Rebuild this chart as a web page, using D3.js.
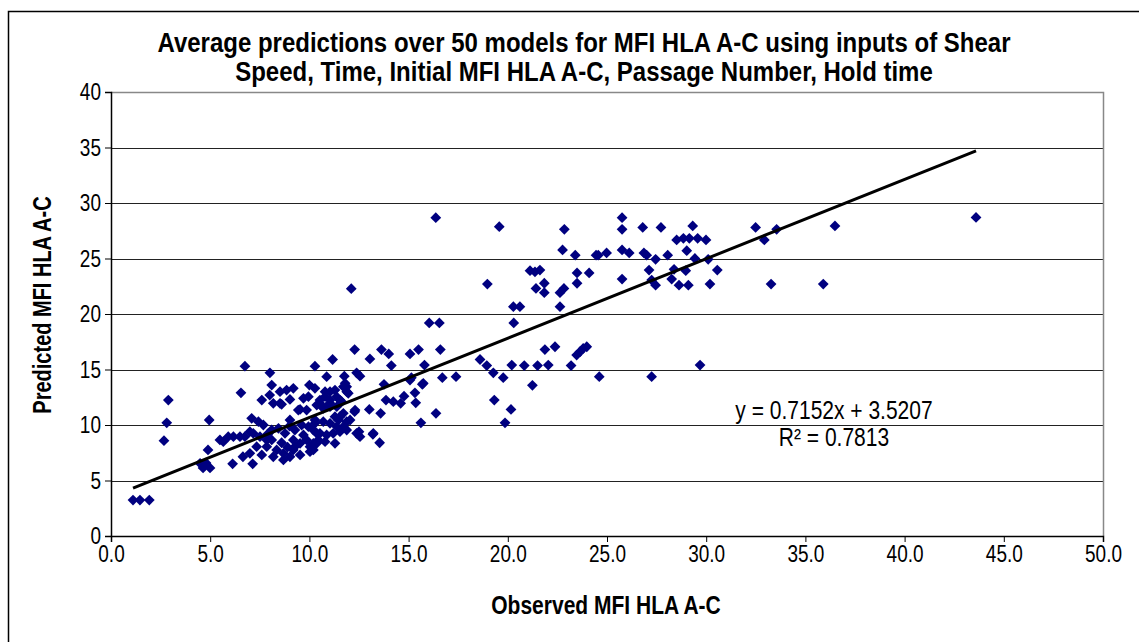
<!DOCTYPE html>
<html>
<head>
<meta charset="utf-8">
<script src="https://cdn.jsdelivr.net/npm/d3@7"></script>
<style>
  body { margin: 0; background: #fff; }
  svg { display: block; font-family: "Liberation Sans", Arial, sans-serif; }
</style>
</head>
<body>
<svg id="chart" width="1139" height="642"></svg>
<script>
// observed vs predicted MFI HLA A-C
const observed = [
  1.11, 1.46, 1.93, 2.67, 2.81, 2.89, 4.95, 4.79, 4.99, 4.64, 4.89, 6.75, 6.55, 8.01, 6.13, 6.65, 7.14,
  10.28, 11.17, 10.87, 12.11, 16.04, 16.55, 12.28, 13.63, 14.0, 13.05, 15.07, 15.5, 16.6, 14.13, 15.8,
  11.76, 12.38, 12.55, 15.14, 16.7, 13.76, 15.69, 15.32, 14.77, 14.6, 14.23, 13.86, 15.36, 16.38, 15.62,
  13.59, 13.02, 12.28, 13.2, 13.54, 12.5, 8.1, 7.6, 8.18, 8.6, 8.85, 9.19, 9.02, 9.53, 9.7, 9.95, 10.0,
  10.28, 10.53, 10.79, 11.04, 11.29, 10.87, 11.04, 11.37, 11.63, 11.8, 11.88, 11.96, 11.38, 11.54, 11.29,
  11.88, 7.09, 7.43, 7.68, 5.66, 5.91, 6.17, 6.5, 6.75, 7.0, 17.39, 18.6, 18.94, 19.27, 19.77, 19.32,
  20.16, 19.86, 20.2, 20.83, 21.5, 22.04, 21.24, 21.87, 22.38, 23.19, 23.47, 23.64, 23.8, 23.98, 24.61,
  16.37, 19.57, 22.85, 25.76, 25.76, 22.76, 23.4, 24.45, 24.56, 24.98, 25.76, 26.12, 18.97, 21.12, 21.37,
  21.62, 21.42, 21.84, 21.84, 22.63, 22.83, 23.49, 24.1, 23.49, 25.76, 22.63, 20.28, 20.61, 20.3, 26.8,
  27.72, 29.32, 32.49, 33.55, 36.49, 32.93, 28.51, 28.85, 29.15, 29.57, 29.99, 29.02, 26.86, 27.0, 27.45,
  28.06, 29.43, 30.1, 30.56, 27.12, 28.38, 28.97, 27.25, 28.26, 27.45, 28.63, 29.1, 30.19, 33.27, 35.9,
  27.25, 29.69, 43.6, 8.52, 8.0, 8.52, 9.44, 9.86, 9.02, 5.49, 7.17, 4.49, 7.6, 7.85, 8.1, 8.35, 8.69,
  9.02, 8.1, 8.44, 8.77, 9.27, 9.61, 9.95, 10.28, 9.19, 9.53, 9.86, 10.2, 9.19, 9.53, 8.69, 8.18, 10.37,
  10.45, 10.2, 7.51, 7.85, 7.34, 7.0, 11.71, 11.88, 11.54, 10.79, 11.04, 10.53, 15.07, 15.74, 12.3, 10.37,
  10.7, 11.04, 11.71, 12.05, 11.46, 10.28, 10.7, 11.04, 11.38, 11.71, 10.2, 10.53, 10.87, 11.2, 11.54,
  11.88, 12.38, 12.55, 13.22, 10.03, 10.37, 10.79, 11.29, 10.03, 8.9, 9.3, 8.6, 7.9, 9.0, 9.7
];
const predicted = [
  3.24, 3.24, 3.24, 8.59, 10.2, 12.25, 10.45, 6.58, 6.13, 6.13, 7.75, 15.3, 12.9, 14.7, 6.5, 7.14, 6.5,
  15.3, 15.9, 14.35, 22.28, 19.2, 19.2, 16.8, 16.8, 16.4, 15.95, 16.4, 16.8, 16.8, 15.35, 15.4,
  14.4, 14.7, 14.4, 14.26, 14.26, 13.67, 13.67, 12.9, 12.6, 11.95, 12.1, 12.25, 12.0, 11.05, 10.2,
  11.05, 11.4, 11.2, 9.16, 8.4, 9.4, 13.6, 12.25, 11.95, 11.86, 13.15, 13.3, 12.3, 11.4, 12.4, 12.55, 13.6,
  13.3, 11.95, 12.55, 13.0, 13.15, 11.65, 11.95, 12.55, 12.1, 13.76, 13.45, 12.86, 11.65, 10.75, 10.75,
  10.3, 10.6, 10.3, 10.0, 8.5, 8.95, 8.95, 8.95, 8.95, 9.4, 14.35, 15.9, 15.35, 14.7, 14.26, 12.25,
  11.4, 10.2, 15.4, 15.35, 15.35, 15.4, 13.57, 16.8, 17.05, 15.35, 16.3, 16.6, 16.9, 17.05, 14.35,
  28.68, 27.87, 27.63, 28.68, 27.63, 25.77, 25.3, 25.3, 25.3, 25.5, 25.77, 25.5, 22.7, 23.9, 23.8,
  23.96, 22.3, 22.77, 21.92, 21.92, 22.3, 23.7, 23.7, 22.77, 23.15, 20.66, 20.66, 20.66, 19.2, 27.8,
  27.8, 27.93, 27.8, 27.63, 27.93, 26.67, 26.67, 26.82, 26.82, 26.82, 26.67, 25.7, 25.5, 25.3, 24.93,
  25.3, 25.0, 24.93, 23.96, 23.96, 24.03, 23.9, 23.06, 23.15, 22.6, 22.6, 22.6, 22.7, 22.7, 22.7,
  14.35, 15.4, 28.7, 13.0, 12.7, 11.95, 11.35, 11.35, 10.45, 8.65, 9.25, 6.55, 7.3, 8.05, 8.65, 7.75, 7.45,
  7.14, 9.55, 9.7, 9.25, 9.55, 10.0, 9.85, 10.15, 8.65, 8.35, 8.65, 8.35, 7.75, 7.3, 6.85, 7.14, 9.25,
  8.65, 7.75, 8.95, 8.65, 8.05, 7.45, 13.45, 13.0, 12.25, 13.0, 12.25, 12.25, 14.05, 13.76, 11.35, 11.8,
  11.5, 11.65, 11.05, 10.45, 10.45, 10.45, 10.3, 10.15, 9.85, 9.85, 9.55, 9.25, 9.1, 9.25, 9.4,
  9.55, 9.25, 8.95, 9.25, 8.05, 8.35, 8.5, 8.35, 7.6, 8.0, 8.1, 8.4, 9.2, 9.9, 9.1
];
const xTicks = [0, 5, 10, 15, 20, 25, 30, 35, 40, 45, 50];
const yTicks = [0, 5, 10, 15, 20, 25, 30, 35, 40];
const titleLines = [
  'Average predictions over 50 models for MFI HLA A-C using inputs of Shear',
  'Speed, Time, Initial MFI HLA A-C, Passage Number, Hold time'
];
const slope = 0.7152;
const intercept = 3.5207;
const rSquared = 0.7813;

const svg = d3.select('#chart');
const plotLeft = 111, plotRight = 1103, plotTop = 92, plotBottom = 536;
const stretch = 1.25; // the reference text is drawn tall and narrow

const xScale = d3.scaleLinear().domain([0, 50]).range([plotLeft, plotRight]);
const yScale = d3.scaleLinear().domain([0, 40]).range([plotBottom, plotTop]);

// outer chart frame (only top/left edges fall inside the picture)
svg.append('rect')
  .attr('x', 8.5).attr('y', 11.5)
  .attr('width', 1200).attr('height', 700)
  .attr('fill', 'none').attr('stroke', '#000').attr('stroke-width', 1.5);

// horizontal gridlines
svg.append('g')
  .selectAll('line')
  .data(yTicks.filter((t) => t > 0 && t < 40))
  .enter()
  .append('line')
  .attr('x1', plotLeft).attr('x2', plotRight)
  .attr('y1', (d) => Math.round(yScale(d)) + 0.5)
  .attr('y2', (d) => Math.round(yScale(d)) + 0.5)
  .attr('stroke', '#222').attr('stroke-width', 1);

// plot area border (top + right grey)
svg.append('path')
  .attr('d', `M${plotLeft},${plotTop + 0.5}H${plotRight + 0.5}V${plotBottom}`)
  .attr('fill', 'none').attr('stroke', '#888').attr('stroke-width', 1.5);

const xAxis = d3.axisBottom(xScale)
  .tickValues(xTicks)
  .tickFormat(d3.format('.1f'))
  .tickSize(6)
  .tickPadding(1);
const yAxis = d3.axisLeft(yScale)
  .tickValues(yTicks)
  .tickFormat(d3.format('d'))
  .tickSize(6)
  .tickPadding(4);

const xAxisSel = svg.append('g')
  .attr('transform', 'translate(0,' + plotBottom + ')')
  .call(xAxis);
const yAxisSel = svg.append('g')
  .attr('transform', 'translate(' + plotLeft + ',0)')
  .call(yAxis);

[xAxisSel, yAxisSel].forEach((sel) => {
  sel.select('.domain').attr('stroke', '#000').attr('stroke-width', 1.5);
  sel.selectAll('.tick line').attr('stroke', '#000');
  sel.selectAll('.tick text')
    .style('font-size', '19px')
    .style('font-family', '"Liberation Sans", Arial, sans-serif')
    .attr('transform', `scale(1,${stretch})`)
    .attr('fill', '#000');
});

// points
const points = observed.map((x, i) => [x, predicted[i]]);
const diamond = d3.symbol().type(d3.symbolSquare).size(58);
svg.append('g')
  .selectAll('path')
  .data(points)
  .enter()
  .append('path')
  .attr('d', diamond)
  .attr('transform', (d) => `translate(${xScale(d[0])},${yScale(d[1])}) rotate(45)`)
  .attr('fill', '#000080');

// linear trend line over the data range
const xMin = d3.min(observed), xMax = d3.max(observed);
svg.append('line')
  .attr('x1', xScale(xMin)).attr('y1', yScale(slope * xMin + intercept))
  .attr('x2', xScale(xMax)).attr('y2', yScale(slope * xMax + intercept))
  .attr('stroke', '#000').attr('stroke-width', 3);

function addText(x, y, str, size, bold, rotate, sy) {
  const rot = rotate ? ' rotate(-90)' : '';
  return svg.append('text')
    .attr('transform', `translate(${x},${y})${rot} scale(1,${sy || stretch})`)
    .attr('text-anchor', 'middle')
    .style('font-size', size + 'px')
    .style('font-weight', bold ? 'bold' : 'normal')
    .text(str);
}

// trend equation
addText(834, 419, `y = ${slope}x + ${intercept}`, 21, false);
addText(834, 446, `R² = ${rSquared}`, 21, false);

// title
titleLines.forEach((line, i) => addText(584, 52 + i * 29, line, 24, true, false, 1.12));

// axis titles
addText(606, 614, 'Observed MFI HLA A-C', 21, true);
addText(51, 305, 'Predicted MFI HLA A-C', 20, true, true);
</script>
</body>
</html>
